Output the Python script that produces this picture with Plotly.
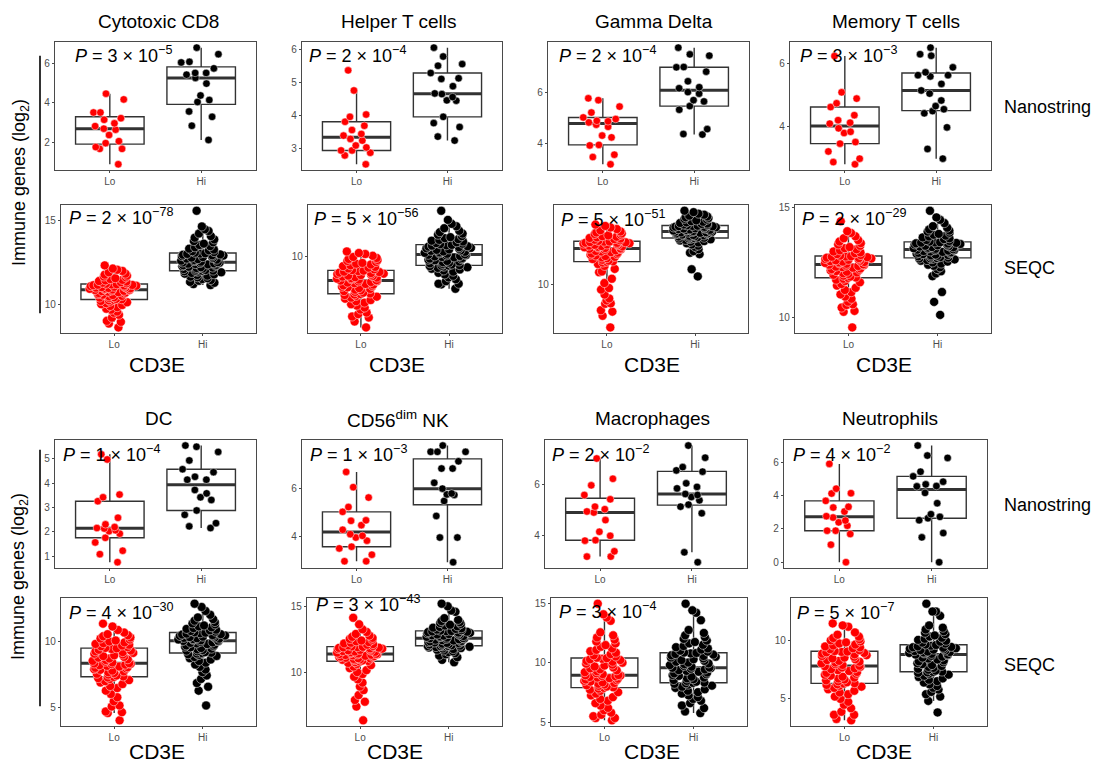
import numpy as np
import plotly.graph_objects as go

W, H = 1094, 766

# ---------------- text / categories ----------------
cell_types = ["Cytotoxic CD8", "Helper T cells", "Gamma Delta", "Memory T cells",
              "DC", "CD56<sup>dim</sup> NK", "Macrophages", "Neutrophils"]
groups = ["Lo", "Hi"]
platforms = ["Nanostring", "SEQC"]
x_title = "CD3E"
y_title = "Immune genes (log<sub>2</sub>)"

# P values (mantissa, exponent) per cell type
p_nano = [(3, -5), (2, -4), (2, -4), (3, -3), (1, -4), (1, -3), (2, -2), (4, -2)]
p_seqc = [(2, -78), (5, -56), (5, -51), (2, -29), (4, -30), (3, -43), (3, -4), (5, -7)]

# y tick values per panel (nanostring, seqc) per cell type
ticks_nano = [[2, 4, 6], [3, 4, 5, 6], [4, 6], [4, 6], [1, 2, 3, 4, 5], [4, 6], [4, 6], [0, 2, 4, 6]]
ticks_seqc = [[10, 15], [10], [10], [10, 15], [5, 10], [10, 15], [5, 10, 15], [5, 10]]

# ---------------- Nanostring data ----------------
nano_cd8_lo = [0.9, 1.68, 1.68, 1.77, 1.97, 2.07, 2.38, 2.65, 2.7, 2.83, 2.97, 3.15, 3.23, 3.52, 3.52, 4.18, 4.47]
nano_cd8_hi = [2.13, 2.85, 3.3, 3.57, 4.05, 4.15, 4.38, 4.98, 5.27, 5.43, 5.52, 5.52, 5.75, 6.05, 6.08, 6.47, 6.8]
nano_th_lo = [2.53, 2.8, 2.88, 2.95, 2.95, 3.04, 3.1, 3.25, 3.3, 3.4, 3.45, 3.57, 3.7, 3.82, 3.97, 4.04, 4.77, 5.38]
nano_th_hi = [3.25, 3.37, 3.66, 3.78, 3.97, 4.46, 4.47, 4.57, 4.66, 4.68, 4.9, 5.12, 5.14, 5.3, 5.52, 5.57, 5.8, 6.07]
nano_gd_lo = [3.21, 3.49, 3.58, 3.94, 3.96, 4.25, 4.32, 4.66, 4.74, 4.83, 4.87, 4.89, 4.96, 5.02, 5.21, 5.44, 5.69, 5.76]
nano_gd_hi = [4.36, 4.38, 4.57, 5.32, 5.46, 5.64, 5.69, 5.94, 6.0, 6.15, 6.19, 6.42, 6.79, 6.96, 6.97, 7.41, 7.46, 7.72]
nano_tm_lo = [2.79, 2.86, 2.97, 3.2, 3.45, 3.5, 3.79, 3.83, 3.94, 4.09, 4.12, 4.2, 4.36, 4.62, 4.74, 4.89, 5.09, 6.25]
nano_tm_hi = [2.97, 3.28, 3.97, 4.42, 4.49, 4.55, 4.65, 4.83, 5.05, 5.15, 5.36, 5.6, 5.64, 5.64, 5.73, 5.89, 6.26, 6.31, 6.52]
nano_dc_lo = [0.76, 1.09, 1.23, 1.57, 1.76, 1.93, 2.03, 2.07, 2.14, 2.16, 2.2, 2.31, 2.58, 3.26, 3.42, 3.53, 4.97, 5.18]
nano_dc_hi = [2.16, 2.23, 2.36, 2.7, 2.88, 3.31, 3.42, 3.58, 3.72, 4.14, 4.14, 4.26, 4.45, 4.57, 4.93, 5.28, 5.49, 5.54]
nano_nk_lo = [2.99, 2.99, 3.26, 3.52, 3.59, 3.84, 3.97, 4.04, 4.11, 4.29, 4.48, 4.66, 4.68, 5.03, 5.23, 5.62, 6.05, 6.68]
nano_nk_hi = [2.95, 3.97, 3.97, 4.86, 5.48, 5.73, 5.75, 5.79, 5.99, 6.23, 6.82, 6.82, 7.12, 7.51, 7.51, 7.51, 7.77]
nano_mac_lo = [3.15, 3.15, 3.36, 3.78, 3.8, 3.97, 4.13, 4.59, 4.89, 4.93, 5.02, 5.12, 5.41, 5.58, 5.96, 6.22, 7.02]
nano_mac_hi = [2.93, 3.32, 4.86, 5.12, 5.2, 5.37, 5.5, 5.58, 5.62, 5.84, 5.9, 6.04, 6.5, 6.55, 6.68, 7.05, 7.53]
nano_neu_lo = [0.0, 1.05, 1.69, 1.89, 1.89, 2.19, 2.39, 2.5, 2.68, 2.76, 3.04, 3.28, 3.32, 3.68, 4.12, 4.14, 4.41, 5.9]
nano_neu_hi = [0.0, 1.49, 1.75, 2.52, 2.64, 2.72, 2.88, 3.54, 4.16, 4.55, 4.57, 4.67, 4.83, 5.15, 5.43, 6.26, 6.4, 7.0]

# ---------------- SEQC data ----------------
seqc_cd8_lo = [8.63, 8.86, 8.96, 9.02, 9.21, 9.38, 9.5, 9.57, 9.68, 9.74, 9.83, 9.9, 9.96, 10.01, 10.07, 10.12, 10.16, 10.2, 10.24, 10.27,
               10.3, 10.32, 10.37, 10.4, 10.42, 10.47, 10.5, 10.55, 10.57, 10.6, 10.64, 10.67, 10.7, 10.72, 10.75, 10.78, 10.8, 10.82, 10.84, 10.85,
               10.87, 10.88, 10.9, 10.92, 10.94, 10.95, 10.97, 10.99, 11.0, 11.02, 11.04, 11.06, 11.08, 11.1, 11.12, 11.13, 11.15, 11.16, 11.18, 11.19,
               11.22, 11.25, 11.28, 11.31, 11.35, 11.38, 11.42, 11.45, 11.5, 11.55, 11.6, 11.65, 11.7, 11.76, 11.82, 11.9, 11.98, 12.05, 12.12, 12.31]
seqc_cd8_hi = [11.14, 11.2, 11.28, 11.33, 11.4, 11.44, 11.5, 11.55, 11.6, 11.64, 11.7, 11.74, 11.78, 11.82, 11.86, 11.9, 11.93, 11.96, 11.98, 11.99,
               12.0, 12.03, 12.06, 12.09, 12.12, 12.15, 12.18, 12.2, 12.23, 12.26, 12.29, 12.32, 12.34, 12.37, 12.39, 12.41, 12.43, 12.45, 12.47, 12.48,
               12.5, 12.53, 12.56, 12.59, 12.62, 12.65, 12.68, 12.71, 12.74, 12.77, 12.8, 12.83, 12.86, 12.89, 12.91, 12.94, 12.96, 12.99, 13.01, 13.03,
               13.06, 13.1, 13.15, 13.2, 13.25, 13.3, 13.38, 13.45, 13.52, 13.6, 13.68, 13.75, 13.85, 13.95, 14.05, 14.2, 14.35, 14.45, 14.62, 15.55]
seqc_th_lo = [6.45, 6.75, 6.95, 7.0, 7.12, 7.2, 7.35, 7.45, 7.55, 7.62, 7.7, 7.77, 7.83, 7.9, 7.95, 8.0, 8.04, 8.08, 8.11, 8.13,
              8.16, 8.2, 8.24, 8.28, 8.32, 8.35, 8.39, 8.43, 8.47, 8.5, 8.54, 8.57, 8.61, 8.64, 8.68, 8.71, 8.74, 8.77, 8.79, 8.81,
              8.83, 8.86, 8.88, 8.91, 8.93, 8.96, 8.98, 9.01, 9.04, 9.06, 9.09, 9.11, 9.14, 9.16, 9.19, 9.21, 9.24, 9.26, 9.29, 9.31,
              9.34, 9.38, 9.42, 9.46, 9.5, 9.54, 9.58, 9.62, 9.66, 9.7, 9.75, 9.8, 9.85, 9.9, 9.95, 10.0, 10.06, 10.15, 10.2, 10.28]
seqc_th_hi = [8.4, 8.62, 8.65, 8.65, 8.78, 8.88, 8.97, 9.05, 9.12, 9.2, 9.26, 9.32, 9.37, 9.41, 9.45, 9.48, 9.51, 9.54, 9.56, 9.57,
              9.59, 9.62, 9.65, 9.68, 9.71, 9.74, 9.77, 9.8, 9.83, 9.86, 9.89, 9.92, 9.95, 9.98, 10.0, 10.03, 10.05, 10.08, 10.1, 10.11,
              10.13, 10.16, 10.18, 10.21, 10.23, 10.26, 10.28, 10.31, 10.33, 10.36, 10.38, 10.41, 10.44, 10.46, 10.49, 10.52, 10.54, 10.57, 10.59, 10.61,
              10.64, 10.67, 10.7, 10.74, 10.78, 10.82, 10.86, 10.9, 10.95, 11.0, 11.05, 11.12, 11.18, 11.25, 11.32, 11.45, 11.55, 11.67, 11.87, 12.33]
seqc_gd_lo = [7.83, 8.42, 8.63, 8.7, 9.03, 9.05, 9.2, 9.3, 9.5, 9.75, 9.83, 10.08, 10.3, 10.63, 10.67, 10.8, 10.95, 11.05, 11.12, 11.16,
              11.18, 11.22, 11.26, 11.3, 11.34, 11.38, 11.41, 11.45, 11.48, 11.52, 11.55, 11.58, 11.62, 11.65, 11.68, 11.71, 11.74, 11.77, 11.8, 11.82,
              11.84, 11.86, 11.88, 11.9, 11.92, 11.94, 11.96, 11.98, 12.0, 12.02, 12.04, 12.06, 12.08, 12.1, 12.12, 12.13, 12.15, 12.16, 12.18, 12.19,
              12.22, 12.25, 12.28, 12.31, 12.34, 12.37, 12.4, 12.43, 12.46, 12.5, 12.53, 12.57, 12.6, 12.65, 12.7, 12.76, 12.82, 12.9, 12.98, 13.05]
seqc_gd_hi = [10.42, 10.78, 11.55, 11.62, 11.7, 11.8, 11.92, 11.98, 12.04, 12.1, 12.14, 12.18, 12.21, 12.24, 12.27, 12.3, 12.32, 12.34, 12.35, 12.36,
              12.38, 12.4, 12.42, 12.44, 12.46, 12.48, 12.5, 12.52, 12.54, 12.56, 12.58, 12.6, 12.61, 12.63, 12.64, 12.65, 12.66, 12.67, 12.68, 12.69,
              12.71, 12.72, 12.74, 12.75, 12.77, 12.78, 12.8, 12.82, 12.83, 12.85, 12.86, 12.88, 12.9, 12.91, 12.93, 12.94, 12.96, 12.97, 12.98, 12.99,
              13.01, 13.03, 13.05, 13.08, 13.1, 13.13, 13.16, 13.19, 13.22, 13.26, 13.3, 13.34, 13.38, 13.42, 13.46, 13.5, 13.55, 13.6, 13.68, 13.75]
seqc_tm_lo = [9.55, 10.26, 10.3, 10.45, 10.57, 10.6, 10.72, 10.85, 10.95, 11.05, 11.15, 11.25, 11.35, 11.45, 11.52, 11.6, 11.66, 11.72, 11.76, 11.8,
              11.82, 11.86, 11.9, 11.94, 11.98, 12.01, 12.05, 12.08, 12.11, 12.14, 12.17, 12.2, 12.23, 12.26, 12.29, 12.31, 12.34, 12.36, 12.38, 12.4,
              12.42, 12.44, 12.46, 12.48, 12.5, 12.52, 12.54, 12.56, 12.58, 12.6, 12.62, 12.64, 12.66, 12.68, 12.7, 12.72, 12.74, 12.76, 12.77, 12.78,
              12.81, 12.84, 12.88, 12.92, 12.96, 13.0, 13.05, 13.1, 13.15, 13.2, 13.26, 13.32, 13.38, 13.45, 13.52, 13.6, 13.69, 13.84, 13.92, 14.37]
seqc_tm_hi = [10.12, 10.71, 11.16, 11.88, 12.0, 12.1, 12.2, 12.28, 12.35, 12.4, 12.45, 12.5, 12.54, 12.58, 12.61, 12.64, 12.66, 12.68, 12.69, 12.7,
              12.72, 12.74, 12.76, 12.78, 12.8, 12.82, 12.84, 12.86, 12.88, 12.9, 12.92, 12.94, 12.96, 12.98, 13.0, 13.02, 13.04, 13.06, 13.07, 13.08,
              13.1, 13.12, 13.13, 13.15, 13.17, 13.19, 13.2, 13.22, 13.24, 13.26, 13.28, 13.3, 13.32, 13.34, 13.36, 13.37, 13.39, 13.4, 13.41, 13.42,
              13.45, 13.48, 13.52, 13.56, 13.6, 13.64, 13.68, 13.72, 13.76, 13.8, 13.85, 13.9, 13.95, 14.0, 14.08, 14.15, 14.29, 14.44, 14.55, 14.85]
seqc_dc_lo = [4.05, 4.6, 4.67, 4.72, 5.1, 5.18, 5.5, 5.8, 6.05, 6.3, 6.5, 6.65, 6.8, 6.92, 7.02, 7.1, 7.18, 7.25, 7.3, 7.34,
              7.38, 7.45, 7.52, 7.58, 7.64, 7.7, 7.76, 7.82, 7.88, 7.93, 7.98, 8.03, 8.08, 8.13, 8.18, 8.23, 8.27, 8.31, 8.34, 8.36,
              8.38, 8.44, 8.5, 8.56, 8.62, 8.68, 8.74, 8.8, 8.86, 8.92, 8.98, 9.04, 9.1, 9.16, 9.22, 9.28, 9.34, 9.4, 9.46, 9.51,
              9.54, 9.6, 9.66, 9.72, 9.78, 9.84, 9.9, 9.96, 10.03, 10.1, 10.17, 10.25, 10.33, 10.42, 10.5, 10.58, 10.7, 10.9, 11.16, 11.38]
seqc_dc_hi = [5.18, 6.3, 6.6, 6.88, 7.19, 7.45, 7.7, 7.9, 8.1, 8.28, 8.42, 8.55, 8.66, 8.76, 8.85, 8.93, 9.0, 9.06, 9.11, 9.14,
              9.17, 9.22, 9.28, 9.33, 9.38, 9.43, 9.48, 9.53, 9.58, 9.63, 9.68, 9.73, 9.78, 9.83, 9.88, 9.92, 9.96, 10.0, 10.04, 10.07,
              10.09, 10.12, 10.15, 10.18, 10.21, 10.24, 10.27, 10.3, 10.33, 10.36, 10.39, 10.42, 10.45, 10.48, 10.51, 10.55, 10.58, 10.62, 10.65, 10.69,
              10.72, 10.77, 10.82, 10.87, 10.92, 10.98, 11.04, 11.1, 11.17, 11.24, 11.32, 11.4, 11.5, 11.6, 11.72, 11.85, 12.05, 12.34, 12.64, 12.89]
seqc_nk_lo = [6.33, 7.38, 7.75, 7.88, 8.25, 8.63, 8.9, 9.2, 9.45, 9.65, 9.85, 10.0, 10.15, 10.3, 10.42, 10.53, 10.62, 10.7, 10.76, 10.81,
              10.85, 10.88, 10.91, 10.94, 10.97, 11.0, 11.03, 11.06, 11.09, 11.12, 11.15, 11.18, 11.21, 11.24, 11.27, 11.3, 11.32, 11.34, 11.36, 11.37,
              11.39, 11.42, 11.45, 11.48, 11.51, 11.54, 11.57, 11.6, 11.63, 11.66, 11.69, 11.72, 11.75, 11.78, 11.81, 11.84, 11.86, 11.88, 11.9, 11.92,
              11.95, 11.99, 12.03, 12.08, 12.13, 12.18, 12.23, 12.28, 12.34, 12.4, 12.46, 12.52, 12.6, 12.68, 12.78, 12.9, 13.05, 13.25, 13.63, 14.13]
seqc_nk_hi = [10.75, 10.93, 11.13, 11.25, 11.35, 11.44, 11.52, 11.58, 11.64, 11.7, 11.75, 11.79, 11.83, 11.87, 11.9, 11.93, 11.95, 11.97, 11.98, 11.99,
              12.01, 12.04, 12.07, 12.1, 12.13, 12.16, 12.19, 12.22, 12.25, 12.28, 12.31, 12.34, 12.37, 12.4, 12.43, 12.46, 12.49, 12.52, 12.55, 12.57,
              12.59, 12.62, 12.65, 12.68, 12.71, 12.74, 12.77, 12.8, 12.83, 12.86, 12.89, 12.92, 12.95, 12.98, 13.01, 13.04, 13.07, 13.09, 13.11, 13.12,
              13.15, 13.19, 13.23, 13.28, 13.33, 13.38, 13.43, 13.48, 13.54, 13.6, 13.66, 13.73, 13.8, 13.88, 13.97, 14.1, 14.58, 14.68, 15.0, 15.2]
seqc_mac_lo = [5.15, 5.35, 5.35, 5.5, 5.62, 5.8, 6.0, 6.2, 6.4, 6.6, 6.8, 6.95, 7.1, 7.25, 7.4, 7.52, 7.63, 7.73, 7.82, 7.88,
               7.93, 7.99, 8.05, 8.11, 8.17, 8.23, 8.29, 8.35, 8.41, 8.47, 8.53, 8.59, 8.65, 8.7, 8.75, 8.8, 8.85, 8.89, 8.92, 8.94,
               8.96, 9.04, 9.12, 9.2, 9.28, 9.36, 9.44, 9.52, 9.6, 9.68, 9.76, 9.84, 9.92, 10.0, 10.08, 10.15, 10.22, 10.28, 10.33, 10.38,
               10.42, 10.52, 10.62, 10.72, 10.84, 10.96, 11.08, 11.2, 11.34, 11.48, 11.62, 11.78, 11.95, 12.12, 12.3, 12.55, 13.52, 13.8, 14.07, 14.96]
seqc_mac_hi = [5.76, 5.9, 6.18, 6.4, 6.6, 6.8, 6.95, 7.1, 7.25, 7.4, 7.52, 7.64, 7.76, 7.88, 7.98, 8.07, 8.15, 8.22, 8.27, 8.3,
               8.33, 8.4, 8.47, 8.54, 8.61, 8.68, 8.75, 8.82, 8.89, 8.96, 9.03, 9.1, 9.17, 9.24, 9.31, 9.37, 9.43, 9.49, 9.54, 9.57,
               9.59, 9.66, 9.73, 9.8, 9.87, 9.94, 10.01, 10.08, 10.15, 10.22, 10.29, 10.36, 10.43, 10.5, 10.56, 10.62, 10.68, 10.73, 10.78, 10.82,
               10.85, 10.93, 11.01, 11.1, 11.2, 11.3, 11.4, 11.5, 11.62, 11.74, 11.86, 12.0, 12.15, 12.3, 12.5, 12.75, 13.57, 14.2, 14.4, 14.96]
seqc_neu_lo = [3.16, 3.28, 3.64, 3.64, 3.9, 4.2, 4.5, 4.75, 5.0, 5.2, 5.4, 5.55, 5.7, 5.83, 5.95, 6.05, 6.13, 6.2, 6.26, 6.31,
               6.35, 6.43, 6.51, 6.59, 6.67, 6.75, 6.83, 6.91, 6.99, 7.07, 7.15, 7.23, 7.31, 7.39, 7.47, 7.55, 7.62, 7.69, 7.75, 7.8,
               7.84, 7.91, 7.98, 8.05, 8.12, 8.19, 8.26, 8.33, 8.4, 8.47, 8.54, 8.61, 8.68, 8.75, 8.82, 8.88, 8.94, 8.99, 9.03, 9.06,
               9.1, 9.18, 9.26, 9.34, 9.42, 9.5, 9.58, 9.66, 9.75, 9.84, 9.93, 10.02, 10.12, 10.22, 10.34, 10.5, 10.7, 11.19, 11.3, 11.47]
seqc_neu_hi = [3.84, 4.83, 5.2, 5.4, 5.6, 5.8, 5.95, 6.1, 6.25, 6.4, 6.52, 6.64, 6.76, 6.88, 6.98, 7.08, 7.16, 7.23, 7.28, 7.31,
               7.34, 7.42, 7.5, 7.58, 7.66, 7.74, 7.82, 7.9, 7.98, 8.06, 8.14, 8.22, 8.3, 8.38, 8.46, 8.54, 8.62, 8.69, 8.75, 8.8,
               8.82, 8.86, 8.9, 8.94, 8.98, 9.02, 9.06, 9.1, 9.14, 9.18, 9.22, 9.26, 9.3, 9.34, 9.38, 9.42, 9.46, 9.5, 9.56, 9.62,
               9.66, 9.74, 9.82, 9.9, 9.98, 10.06, 10.15, 10.24, 10.34, 10.44, 10.55, 10.67, 10.8, 10.95, 11.1, 11.3, 12.12, 12.49, 12.49, 13.16]

nano_data = [(nano_cd8_lo, nano_cd8_hi), (nano_th_lo, nano_th_hi), (nano_gd_lo, nano_gd_hi), (nano_tm_lo, nano_tm_hi),
             (nano_dc_lo, nano_dc_hi), (nano_nk_lo, nano_nk_hi), (nano_mac_lo, nano_mac_hi), (nano_neu_lo, nano_neu_hi)]
seqc_data = [(seqc_cd8_lo, seqc_cd8_hi), (seqc_th_lo, seqc_th_hi), (seqc_gd_lo, seqc_gd_hi), (seqc_tm_lo, seqc_tm_hi),
             (seqc_dc_lo, seqc_dc_hi), (seqc_nk_lo, seqc_nk_hi), (seqc_mac_lo, seqc_mac_hi), (seqc_neu_lo, seqc_neu_hi)]

# ---------------- layout (pixel boxes: left, right, top, bottom) ----------------
panel_px = [
    [(55, 256, 39, 168), (302, 502, 39, 168), (548, 749, 39, 168), (790, 991, 39, 168)],
    [(61, 256, 203, 332), (308, 502, 203, 332), (554, 748, 203, 332), (795, 991, 203, 332)],
    [(55, 256, 439, 568), (302, 502, 439, 568), (545, 747, 439, 568), (784, 987, 439, 568)],
    [(61, 256, 598, 727), (307, 502, 598, 727), (551, 747, 598, 727), (791, 987, 598, 727)],
]
p_offset_px = [
    [(18, 13), (5, 13), (9, 13), (8, 13)],
    [(6, 12), (4, 13), (5, 14), (5, 13)],
    [(6, 14), (6, 14), (5, 14), (7, 14)],
    [(6, 14), (7, 6), (6, 13), (4, 14)],
]
title_px = [(158, 19), (398, 19), (654, 19), (896, 19), (158, 418), (398, 418), (652, 418), (890, 418)]
cd3e_px = [(157, 363), (397, 363), (652, 363), (884, 363), (157, 752), (395, 752), (652, 752), (884, 752)]
platform_px = [(1002, 105), (1002, 266), (1002, 505), (1002, 665)]

FONT = "Liberation Sans, Arial, Helvetica, sans-serif"
BOX_LINE = "#333333"
colors = ["#FF0000", "#000000"]
positions = [1, 2]
BOX_W = 0.75

fig = go.Figure()
shapes = []
annotations = []
layout_axes = {}


def px2x(p):
    return p / W


def px2y(p):
    return 1 - p / H


for r in range(4):
    for c in range(4):
        k = r * 4 + c + 1
        ct = (r // 2) * 4 + c
        is_seqc = (r % 2 == 1)
        lo_vals, hi_vals = (seqc_data if is_seqc else nano_data)[ct]
        tickvals = (ticks_seqc if is_seqc else ticks_nano)[ct]
        msize = 9 if is_seqc else 7.5
        jit = 0.75 if is_seqc else 0.6

        allv = np.array(lo_vals + hi_vals)
        vmin, vmax = allv.min(), allv.max()
        pad = 0.05 * (vmax - vmin)

        xa, ya = f"x{k}", f"y{k}"
        for g, vals in enumerate([lo_vals, hi_vals]):
            fig.add_trace(go.Box(
                y=vals, x0=positions[g], xaxis=xa, yaxis=ya, width=BOX_W,
                boxpoints="all", jitter=jit, pointpos=0, whiskerwidth=0,
                fillcolor="rgba(0,0,0,0)", line=dict(color=BOX_LINE, width=1.4),
                marker=dict(color=colors[g], size=msize, opacity=1,
                            line=dict(color="rgba(255,255,255,0.8)", width=0.6)),
                showlegend=False, hoverinfo="y", name=groups[g]))
            med = float(np.median(vals))
            shapes.append(dict(type="line", xref=xa, yref=ya, layer="below",
                               x0=positions[g] - BOX_W / 2, x1=positions[g] + BOX_W / 2,
                               y0=med, y1=med, line=dict(color=BOX_LINE, width=3)))

        left, right, top, bottom = panel_px[r][c]
        suffix = "" if k == 1 else str(k)
        layout_axes["xaxis" + suffix] = dict(
            domain=[px2x(left), px2x(right)], anchor=ya, range=[0.4, 2.6],
            tickvals=positions, ticktext=groups, showgrid=False, zeroline=False,
            showline=True, mirror=True, linecolor="#4a4a4a", linewidth=1.3,
            ticks="outside", ticklen=2, tickcolor="#4a4a4a",
            tickfont=dict(family=FONT, size=10, color="#4d4d4d"), fixedrange=True)
        layout_axes["yaxis" + suffix] = dict(
            domain=[px2y(bottom), px2y(top)], anchor=xa, range=[vmin - pad, vmax + pad],
            tickvals=tickvals, showgrid=False, zeroline=False,
            showline=True, mirror=True, linecolor="#4a4a4a", linewidth=1.3,
            ticks="outside", ticklen=2, tickcolor="#4a4a4a",
            tickfont=dict(family=FONT, size=10, color="#4d4d4d"), fixedrange=True)

        mant, expo = (p_seqc if is_seqc else p_nano)[ct]
        ox, oy = p_offset_px[r][c]
        annotations.append(dict(
            xref="paper", yref="paper", x=px2x(left + ox), y=px2y(top + oy),
            xanchor="left", yanchor="middle", showarrow=False,
            text=f"<i>P</i> = {mant} × 10<sup>−{abs(expo)}</sup>",
            font=dict(family=FONT, size=18, color="black")))

# column titles
for i, (tx, ty) in enumerate(title_px):
    annotations.append(dict(xref="paper", yref="paper", x=px2x(tx), y=px2y(ty),
                            xanchor="center", yanchor="middle", showarrow=False,
                            text=cell_types[i], font=dict(family=FONT, size=19, color="black")))
# CD3E labels
for (tx, ty) in cd3e_px:
    annotations.append(dict(xref="paper", yref="paper", x=px2x(tx), y=px2y(ty),
                            xanchor="center", yanchor="middle", showarrow=False,
                            text=x_title, font=dict(family=FONT, size=21, color="black")))
# platform labels
for i, (tx, ty) in enumerate(platform_px):
    annotations.append(dict(xref="paper", yref="paper", x=px2x(tx), y=px2y(ty),
                            xanchor="left", yanchor="middle", showarrow=False,
                            text=platforms[i % 2], font=dict(family=FONT, size=18, color="black")))
# y-axis labels and brackets
for (cy, y0, y1) in [(181, 53, 312), (577, 449, 707)]:
    annotations.append(dict(xref="paper", yref="paper", x=px2x(20), y=px2y(cy),
                            xanchor="center", yanchor="middle", showarrow=False, textangle=-90,
                            text=y_title, font=dict(family=FONT, size=18, color="black")))
    shapes.append(dict(type="line", xref="paper", yref="paper",
                       x0=px2x(40), x1=px2x(40), y0=px2y(y0), y1=px2y(y1),
                       line=dict(color="black", width=1.6)))

fig.update_layout(
    width=W, height=H, autosize=False,
    margin=dict(l=0, r=0, t=0, b=0),
    paper_bgcolor="white", plot_bgcolor="white",
    boxmode="overlay", showlegend=False,
    shapes=shapes, annotations=annotations,
    font=dict(family=FONT),
    **layout_axes)

fig.write_html("out.html", config={"displayModeBar": False},
               post_script="document.body.style.margin='0px';document.body.style.overflow='hidden';")
